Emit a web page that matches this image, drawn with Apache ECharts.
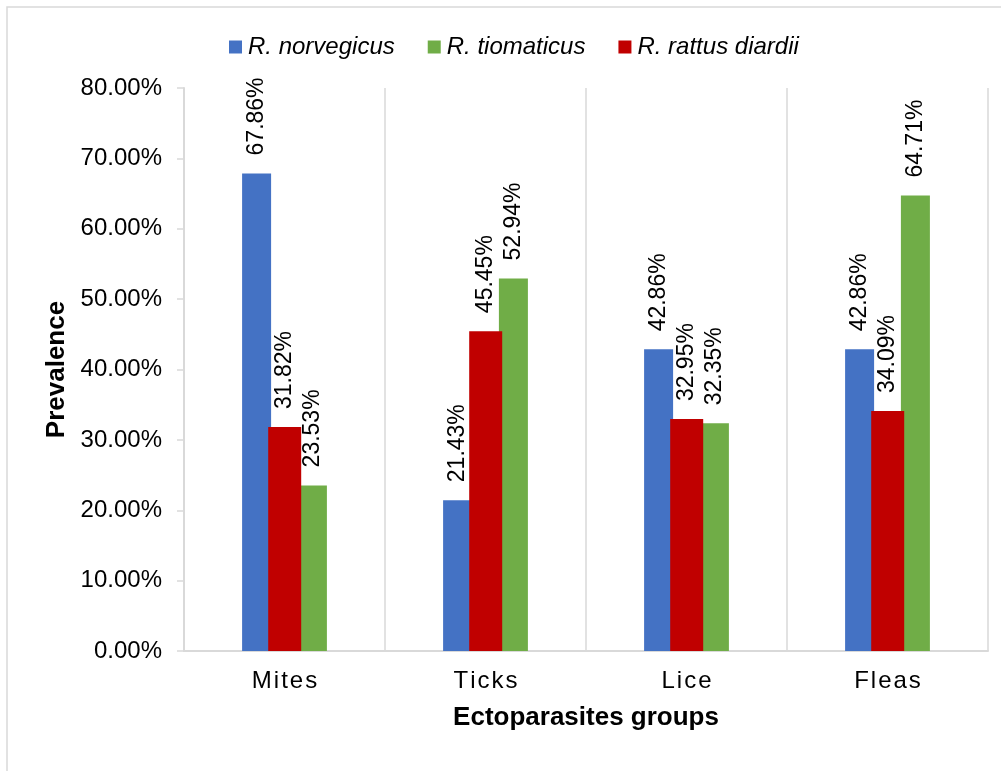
<!DOCTYPE html>
<html>
<head>
<meta charset="utf-8">
<script src="https://cdn.jsdelivr.net/npm/echarts@6/dist/echarts.min.js"></script>
<style>
html,body{margin:0;padding:0;background:#fff;}
#chart{width:1001px;height:771px;}
</style>
</head>
<body>
<div id="chart"></div>
<script>
const categories = ['Mites', 'Ticks', 'Lice', 'Fleas'];
const norvegicus = [67.86, 21.43, 42.86, 42.86];
const rattusDiardii = [31.82, 45.45, 32.95, 34.09];
const tiomaticus = [23.53, 52.94, 32.35, 64.71];
const yTicks = [0, 10, 20, 30, 40, 50, 60, 70, 80];

const FONT = '"Liberation Sans", Arial, sans-serif';
const GRAY = '#d9d9d9';

const chart = echarts.init(document.getElementById('chart'));

function labelCfg() {
  return {
    show: true,
    position: 'top',
    rotate: 90,
    align: 'left',
    verticalAlign: 'middle',
    distance: 18,
    fontFamily: FONT,
    fontSize: 23,
    color: '#000',
    formatter: p => p.value.toFixed(2) + '%'
  };
}

const option = {
  backgroundColor: '#fff',
  animation: false,
  graphic: [{
    type: 'rect',
    shape: { x: 7, y: 7, width: 1200, height: 1000 },
    style: { fill: 'none', stroke: GRAY, lineWidth: 1.5 },
    silent: true
  }],
  legend: {
    data: ['R. norvegicus', 'R. tiomaticus', 'R. rattus diardii'],
    left: 229,
    top: 35,
    padding: 0,
    icon: 'rect',
    itemWidth: 13,
    itemHeight: 13,
    itemGap: 33,
    textStyle: {
      fontFamily: FONT,
      fontSize: 24,
      fontStyle: 'italic',
      color: '#000',
      padding: [0, 0, 0, 1]
    }
  },
  grid: { left: 184, right: 13, top: 88, bottom: 120, containLabel: false },
  xAxis: {
    type: 'category',
    data: categories,
    name: 'Ectoparasites groups',
    nameLocation: 'middle',
    nameGap: 54,
    nameTextStyle: { fontFamily: FONT, fontSize: 26, fontWeight: 'bold', color: '#000' },
    axisLine: { lineStyle: { color: GRAY, width: 2 } },
    axisTick: { show: false },
    splitLine: { show: true, lineStyle: { color: GRAY, width: 1.5 } },
    axisLabel: {
      margin: 18,
      fontFamily: FONT,
      fontSize: 24,
      color: '#000',
      formatter: v => v.split('').join('\u200A')
    }
  },
  yAxis: {
    type: 'value',
    min: yTicks[0],
    max: yTicks[yTicks.length - 1],
    interval: 10,
    name: 'Prevalence',
    nameLocation: 'middle',
    nameGap: 101,
    nameTextStyle: { fontFamily: FONT, fontSize: 26, fontWeight: 'bold', color: '#000' },
    axisLine: { show: true, lineStyle: { color: GRAY, width: 2 } },
    axisTick: { show: true, length: 7, lineStyle: { color: GRAY, width: 1.5 } },
    splitLine: { show: false },
    axisLabel: {
      margin: 22,
      fontFamily: FONT,
      fontSize: 24,
      color: '#000',
      formatter: v => v.toFixed(2) + '%'
    }
  },
  series: [
    {
      name: 'R. norvegicus', type: 'bar', data: norvegicus,
      barWidth: 29, barGap: '-10%', z: 2,
      itemStyle: { color: '#4472C4' },
      label: labelCfg()
    },
    {
      name: 'R. rattus diardii', type: 'bar', data: rattusDiardii,
      barWidth: 33, barGap: '-10%', z: 4,
      itemStyle: { color: '#C00000' },
      label: labelCfg()
    },
    {
      name: 'R. tiomaticus', type: 'bar', data: tiomaticus,
      barWidth: 29, barGap: '-10%', z: 3,
      itemStyle: { color: '#70AD47' },
      label: labelCfg()
    }
  ]
};

chart.setOption(option);
</script>
</body>
</html>
